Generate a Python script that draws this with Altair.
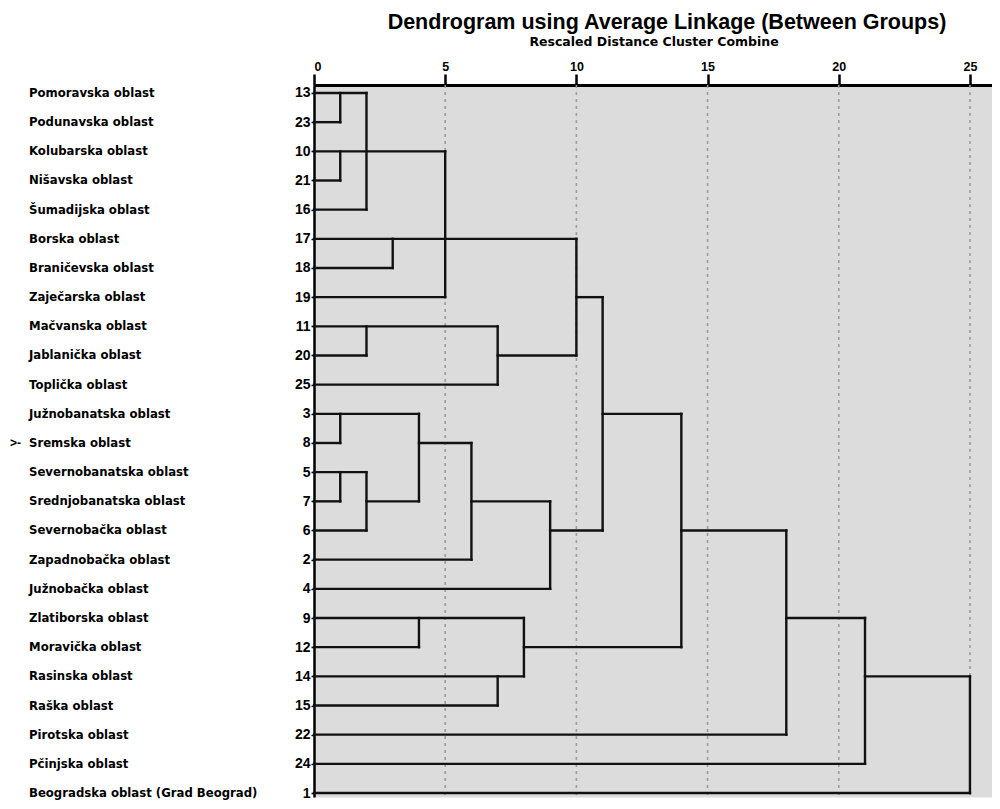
import altair as alt
import pandas as pd

# ---- data ----
names = ["Pomoravska oblast", "Podunavska oblast", "Kolubarska oblast", "Nišavska oblast",
         "Šumadijska oblast", "Borska oblast", "Braničevska oblast", "Zaječarska oblast",
         "Mačvanska oblast", "Jablanička oblast", "Toplička oblast", "Južnobanatska oblast",
         "Sremska oblast", "Severnobanatska oblast", "Srednjobanatska oblast",
         "Severnobačka oblast", "Zapadnobačka oblast", "Južnobačka oblast",
         "Zlatiborska oblast", "Moravička oblast", "Rasinska oblast", "Raška oblast",
         "Pirotska oblast", "Pčinjska oblast", "Beogradska oblast (Grad Beograd)"]
case_ids = [13, 23, 10, 21, 16, 17, 18, 19, 11, 20, 25, 3, 8, 5, 7, 6, 2, 4, 9, 12, 14, 15, 22, 24, 1]

# horizontal dendrogram segments: row index, from distance, to distance
h_row  = [0, 1, 2, 3, 4, 5, 6, 7, 7, 8, 9, 9, 10, 11, 11, 12, 12, 13, 14, 14, 14, 15, 15, 15,
          16, 17, 18, 18, 19, 19, 20, 20, 21, 22, 23, 24]
h_from = [0, 0, 0, 0, 0, 0, 0, 0, 10, 0, 0, 7, 0, 0, 11, 0, 4, 0, 0, 2, 6, 0, 9, 14,
          0, 0, 0, 18, 0, 8, 0, 21, 0, 0, 0, 0]
h_to   = [2, 1, 5, 1, 2, 10, 3, 5, 11, 7, 2, 10, 7, 4, 14, 1, 6, 2, 1, 4, 9, 2, 11, 18,
          6, 9, 8, 21, 4, 14, 8, 25, 7, 18, 21, 25]

# vertical joins: distance, first row, last row
v_at  = [1, 1, 2, 3, 5, 2, 7, 10, 11, 1, 4, 1, 2, 6, 9, 14, 4, 8, 7, 18, 21, 25]
v_top = [0, 2, 0, 5, 2, 8, 8, 5, 7, 11, 11, 13, 13, 12, 14, 11, 18, 18, 20, 15, 18, 20]
v_bot = [1, 3, 4, 6, 7, 9, 10, 9, 15, 12, 14, 14, 15, 16, 17, 19, 19, 20, 21, 22, 23, 24]

grid_values = [5, 10, 15, 20, 25]
x_ticks = [0, 5, 10, 15, 20, 25]
title_text = "Dendrogram using Average Linkage (Between Groups)"
subtitle_text = "Rescaled Distance Cluster Combine"
marked_row = 12

# ---- tables ----
rows_df = pd.DataFrame({"row": list(range(len(names))), "name": names, "case": case_ids})
h_df = pd.DataFrame({"row": h_row, "x1": h_from, "x2": h_to})
v_df = pd.DataFrame({"x": v_at, "r1": v_top, "r2": v_bot})
grid_df = pd.DataFrame({"g": grid_values})
titles_df = pd.DataFrame({"t": [title_text]})
sub_df = pd.DataFrame({"t": [subtitle_text]})
mark_df = pd.DataFrame({"row": [marked_row], "t": [">-"]})

W, H = 678, 712
FONT = "Liberation Sans"
WIDE = "DejaVu Sans"

xscale = alt.Scale(domain=[0, 25.84], nice=False, zero=False)
yscale = alt.Scale(domain=[-0.274, 24.137], nice=False, zero=False, reverse=True)

label_expr = "[" + ",".join(str(c) for c in case_ids) + "][datum.value]"

xaxis = alt.Axis(orient="top", values=x_ticks, format="d", title=None, grid=False,
                 domainColor="black", domainWidth=3, tickColor="black", tickWidth=2.5,
                 tickSize=11, labelFont=FONT, labelFontSize=12.5, labelFontWeight="bold",
                 labelColor="black", labelPadding=1)
yaxis = alt.Axis(orient="left", values=list(range(len(names))), labelExpr=label_expr,
                 title=None, grid=False, domainColor="black", domainWidth=2.5,
                 tickColor="black", tickWidth=1.5, tickSize=3, labelFont=FONT,
                 labelFontSize=14, labelFontWeight="bold", labelColor="black",
                 labelPadding=1)


def X(f):
    return alt.X(f, type="quantitative", scale=xscale, axis=xaxis)


def Y(f):
    return alt.Y(f, type="quantitative", scale=yscale, axis=yaxis)


grid = alt.Chart(grid_df).mark_rule(color="#9c9c9c", strokeWidth=1.6, strokeDash=[3, 4]).encode(
    x=X("g"), y=alt.value(0), y2=alt.value(H)
)

hlines = alt.Chart(h_df).mark_rule(color="#111111", strokeWidth=2.4, strokeCap="square").encode(
    x=X("x1"), x2="x2", y=Y("row")
)

vlines = alt.Chart(v_df).mark_rule(color="#111111", strokeWidth=2.4, strokeCap="square").encode(
    x=X("x"), y=Y("r1"), y2="r2"
)

row_names = alt.Chart(rows_df).mark_text(
    align="left", baseline="middle", font=WIDE, fontSize=11.7, fontWeight="bold", color="black"
).encode(x=alt.value(-285), y=Y("row"), text="name")

marker = alt.Chart(mark_df).mark_text(
    align="left", baseline="middle", font=FONT, fontSize=12, fontWeight="bold", color="black"
).encode(x=alt.value(-304), y=Y("row"), text="t")

title = alt.Chart(titles_df).mark_text(
    align="center", baseline="alphabetic", font=FONT, fontSize=21.5, fontWeight="bold", color="black"
).encode(x=alt.value(353), y=alt.value(-56), text="t")

subtitle = alt.Chart(sub_df).mark_text(
    align="center", baseline="alphabetic", font=WIDE, fontSize=12.5, fontWeight="bold", color="black"
).encode(x=alt.value(340), y=alt.value(-39), text="t")

chart = alt.layer(grid, hlines, vlines, row_names, marker, title, subtitle).properties(
    width=W, height=H,
    padding={"left": 306, "top": 77, "right": 0, "bottom": 4},
    autosize=alt.AutoSizeParams(type="none"),
    background="white",
).configure_view(fill="#dcdcdc", stroke="transparent")

chart.save("out.html", embed_options={"renderer": "svg", "actions": False})
